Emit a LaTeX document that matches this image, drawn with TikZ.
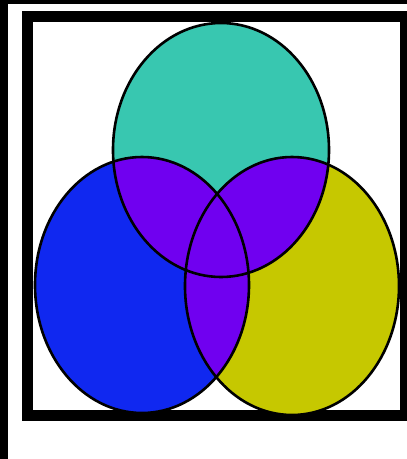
\documentclass[tikz,border=0pt]{standalone}

\definecolor{topteal}{RGB}{56,199,176}
\definecolor{leftblue}{RGB}{16,40,240}
\definecolor{rightyellow}{RGB}{198,200,0}
\definecolor{overlap}{RGB}{112,0,240}

% the three sets (pixel units, y downwards)
\def\topset{(221,150) ellipse [x radius=108, y radius=127]}
\def\leftset{(142,285) ellipse [x radius=107, y radius=128]}
\def\rightset{(292,286) ellipse [x radius=107, y radius=129]}

\begin{document}
\begin{tikzpicture}[
  x=1pt, y=-1pt,
  setline/.style={draw=black, line width=2.6pt},
  frameline/.style={draw=black, line width=11pt},
]
\useasboundingbox (0,0) rectangle (407,459);
\fill[white] (0,0) rectangle (407,459);
\fill[black] (0,0) rectangle (8,459);
\fill[black] (0,0) rectangle (407,4);

% ---- frame ----
\draw[frameline] (27,16) rectangle (405,415);

% ---- set fills ----
\fill[topteal] \topset;
\fill[leftblue] \leftset;
\fill[rightyellow] \rightset;

% ---- overlaps ----
\begin{scope}
  \clip \topset;
  \fill[overlap] \leftset;
  \fill[overlap] \rightset;
\end{scope}
\begin{scope}
  \clip \leftset;
  \fill[overlap] \rightset;
\end{scope}

% ---- outlines ----
\draw[setline] \topset;
\draw[setline] \leftset;
\draw[setline] \rightset;
\end{tikzpicture}
\end{document}
